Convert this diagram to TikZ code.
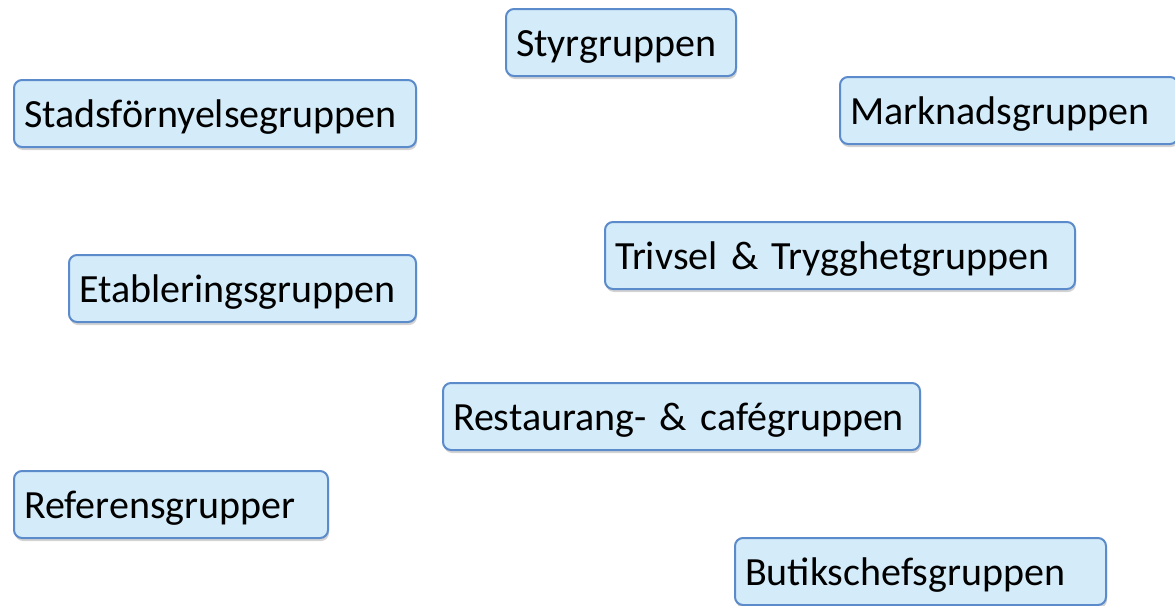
\documentclass[tikz,border=0pt]{standalone}
\usepackage{fontspec}
\setmainfont{Carlito}
\usepackage{tikz}
\usetikzlibrary{shadows}
\definecolor{boxfill}{HTML}{D4ECF9}
\definecolor{boxline}{HTML}{5B8BCB}
\begin{document}
\begin{tikzpicture}[
  x=1pt,y=-1pt,
  font=\fontsize{40}{48}\selectfont,
  grp/.style={draw=boxline,line width=2pt,fill=boxfill,rounded corners=8pt,align=left,inner xsep=10pt,inner ysep=0pt,
    minimum height=67pt,text height=34pt,text depth=7pt,
    drop shadow={shadow xshift=1pt,shadow yshift=-3pt,opacity=0.35,fill=gray}}
]
\clip (0,0) rectangle (1175,605);
\node[grp,text width=210pt] (styr) at (621,42.5) {Styrgruppen};
\node[grp,text width=382pt] (stad) at (215,113.5) {Stadsförnyelsegruppen};
\node[grp,text width=318pt] (mark) at (1009,110.5) {Marknadsgruppen};
\node[grp,text width=450pt] (triv) at (840,255.5) {Trivsel \& Trygghetgruppen};
\node[grp,text width=327pt] (etab) at (242.5,288.5) {Etableringsgruppen};
\node[grp,text width=457pt] (rest) at (681.5,416.5) {Restaurang- \& cafégruppen};
\node[grp,text width=294pt] (ref) at (171,504.5) {Referensgrupper};
\node[grp,text width=351pt] (butik) at (920.5,571.5) {Butikschefsgruppen};
\end{tikzpicture}
\end{document}
